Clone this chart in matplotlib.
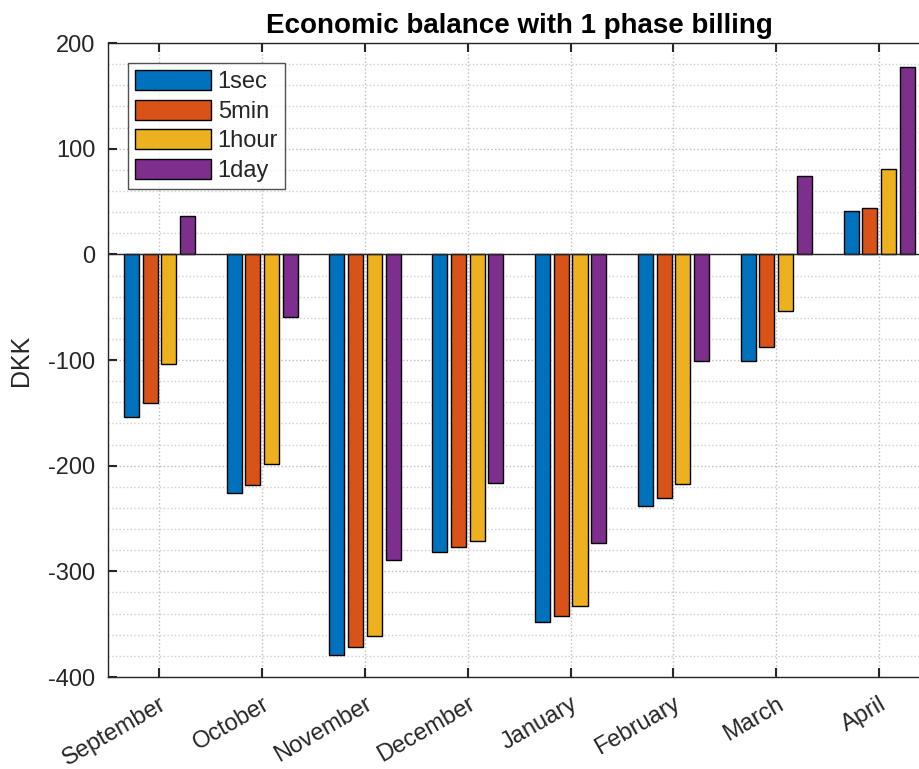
import numpy as np
import matplotlib
matplotlib.use('Agg')
import matplotlib.pyplot as plt
from matplotlib.ticker import MultipleLocator

plt.rcParams['font.family'] = ['Liberation Sans', 'DejaVu Sans']
plt.rcParams['axes.unicode_minus'] = False

# monthly balance in DKK for each billing resolution
months = ['September', 'October', 'November', 'December',
          'January', 'February', 'March', 'April']
sec1 = [-154, -226, -379, -282, -348, -238, -101, 41]
min5 = [-141, -218, -372, -277, -342, -231, -88, 44]
hour1 = [-104, -198, -361, -271, -333, -217, -54, 81]
day1 = [36, -59, -289, -216, -273, -101, 74, 177]

series = [sec1, min5, hour1, day1]
names = ['1sec', '5min', '1hour', '1day']
colors = ['#0072BD', '#D95319', '#EDB120', '#7E2F8E']
txt = '#262626'

fig = plt.figure(figsize=(9.19, 7.69), dpi=100)
ax = fig.add_axes([0.1175, 0.1196, 0.895, 0.8244])

x = np.arange(1, len(months) + 1)
step = 0.182
w = 0.146
for i, (vals, nm, c) in enumerate(zip(series, names, colors)):
    ax.bar(x + (i - 1.5) * step, vals, width=w, color=c, edgecolor='black',
           linewidth=1, label=nm, zorder=3)

ax.axhline(0, color='#262626', linewidth=1, zorder=4)

ax.set_xlim(0.5, 8.5)
ax.set_ylim(-400, 200)
ax.set_xticks(x)
ax.set_xticklabels(months, rotation=30, ha='right', va='top',
                   rotation_mode='anchor', fontsize=17, color=txt)
ax.yaxis.set_major_locator(MultipleLocator(100))
ax.yaxis.set_minor_locator(MultipleLocator(20))
ax.tick_params(axis='y', labelsize=17, labelcolor=txt, pad=9)
ax.tick_params(which='both', direction='in', color=txt, width=1.5,
               top=True, right=True)
ax.tick_params(which='major', length=6.5)
ax.tick_params(which='minor', length=0)
ax.tick_params(axis='x', pad=11.5)

ax.grid(True, which='major', linestyle=':', color='#bdbdbd', linewidth=1, zorder=0)
ax.grid(True, which='minor', axis='y', linestyle=':', color='#cfcfcf', linewidth=1, zorder=0)
ax.set_axisbelow(True)

for s in ax.spines.values():
    s.set_color(txt)
    s.set_linewidth(1)

ax.set_ylabel('DKK', fontsize=18, color=txt, labelpad=11)
ax.set_title('Economic balance with 1 phase billing', fontsize=20,
             fontweight='bold', pad=7)

leg = ax.legend(loc='upper left', bbox_to_anchor=(0.0243, 0.9685),
                borderaxespad=0, fancybox=False, edgecolor=txt,
                fontsize=17, handlelength=3.2, handleheight=0.93,
                labelspacing=0.27, handletextpad=0.3, borderpad=0.3)
leg.get_frame().set_linewidth(1)
for t in leg.get_texts():
    t.set_color(txt)

fig.savefig('out.png', dpi=100)
